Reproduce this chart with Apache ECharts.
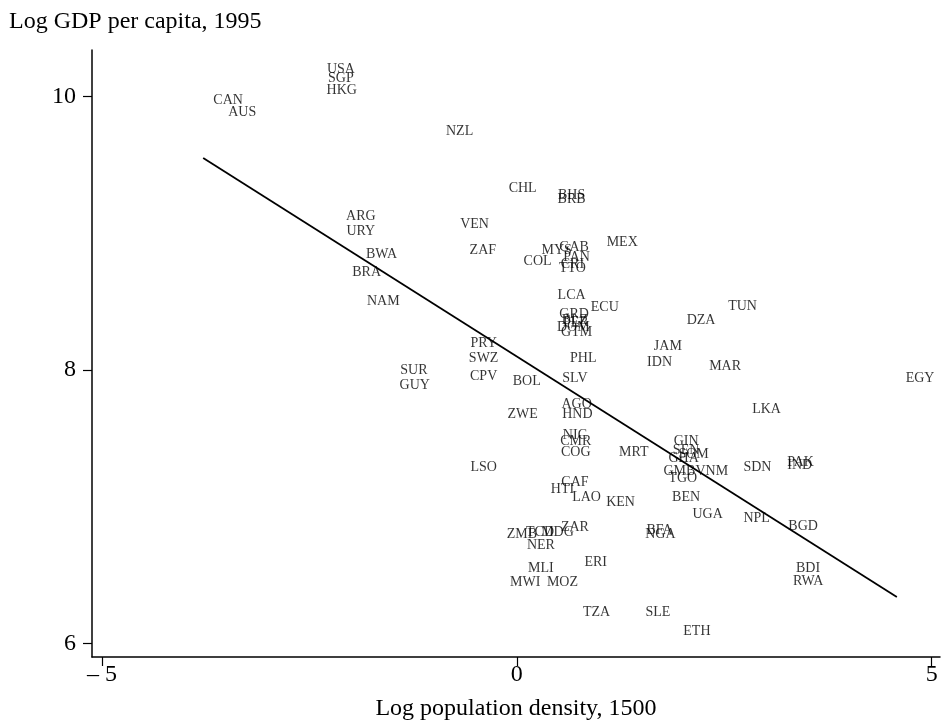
<!DOCTYPE html>
<html>
<head>
<meta charset="utf-8">
<script src="https://cdn.jsdelivr.net/npm/echarts@6/dist/echarts.min.js"></script>
<style>
  html, body { margin: 0; padding: 0; background: #fff; }
  #chart { width: 944px; height: 723px; }
</style>
</head>
<body>
<div id="chart"></div>
<script>
// Country codes, log population density in 1500, log GDP per capita in 1995
const codes = [
  'USA','SGP','HKG','CAN','AUS','NZL','CHL','BHS','BRB','ARG','URY','VEN','ZAF','MEX',
  'MYS','GAB','PAN','CRI','TTO','COL','BWA','BRA','NAM','LCA','ECU','GRD','BLZ','PER',
  'DOM','GTM','TUN','DZA','PRY','SWZ','CPV','SUR','GUY','JAM','IDN','MAR','PHL','SLV',
  'BOL','EGY','AGO','HND','ZWE','LKA','NIC','CMR','COG','MRT','GIN','SEN','SOM','GHA',
  'GMB','VNM','TGO','SDN','PAK','IND','LSO','CAF','HTI','LAO','KEN','BEN','UGA','NPL',
  'BGD','ZMB','TCD','MDG','ZAR','NER','BFA','NGA','ERI','MLI','MWI','MOZ','BDI','RWA',
  'TZA','SLE','ETH'
];
const logDensity = [
  -2.12,-2.12,-2.11,-3.48,-3.31,-0.69,0.07,0.66,0.66,-1.88,-1.88,-0.51,-0.41,1.27,
  0.48,0.69,0.72,0.67,0.67,0.25,-1.63,-1.81,-1.61,0.66,1.06,0.69,0.70,0.71,
  0.68,0.72,2.72,2.22,-0.40,-0.40,-0.40,-1.24,-1.23,1.82,1.72,2.51,0.80,0.70,
  0.12,4.86,0.72,0.73,0.07,3.01,0.70,0.71,0.71,1.41,2.04,2.04,2.13,2.01,
  1.96,2.35,2.00,2.90,3.42,3.41,-0.40,0.70,0.55,0.84,1.25,2.04,2.30,2.89,
  3.45,0.06,0.28,0.49,0.70,0.29,1.72,1.73,0.95,0.29,0.10,0.55,3.51,3.51,
  0.96,1.70,2.17
];
const logGdp = [
  10.195,10.135,10.045,9.975,9.885,9.745,9.325,9.275,9.245,9.125,9.015,9.065,8.875,8.935,
  8.875,8.895,8.825,8.775,8.745,8.795,8.845,8.715,8.505,8.545,8.455,8.405,8.365,8.345,
  8.315,8.275,8.465,8.365,8.195,8.085,7.955,7.995,7.885,8.175,8.055,8.025,8.085,7.935,
  7.915,7.935,7.745,7.675,7.675,7.715,7.525,7.475,7.395,7.395,7.475,7.415,7.385,7.355,
  7.255,7.255,7.205,7.285,7.325,7.305,7.285,7.175,7.125,7.065,7.035,7.065,6.945,6.915,
  6.855,6.795,6.815,6.815,6.845,6.715,6.825,6.795,6.595,6.545,6.445,6.445,6.545,6.455,
  6.225,6.225,6.085
];
// Fitted line: intercept and slope, drawn over this density range
const fitCoef = [8.098, -0.384];
const fitRange = [-3.78, 4.58];
const xTicks = [-5, 0, 5];
const yTicks = [6, 8, 10];

const serif = '"Liberation Serif", "DejaVu Serif", serif';
const points = codes.map((c, i) => ({ name: c, value: [logDensity[i], logGdp[i]] }));
const fitLine = fitRange.map(x => [x, fitCoef[0] + fitCoef[1] * x]);

const chart = echarts.init(document.getElementById('chart'), null, { renderer: 'canvas' });
chart.setOption({
  animation: false,
  backgroundColor: '#fff',
  grid: { left: 92, right: 4, top: 50, bottom: 66, containLabel: false, outerBoundsMode: 'none' },
  title: {
    text: 'Log GDP per capita, 1995',
    left: 4, top: 5,
    textStyle: { fontFamily: serif, fontSize: 24, fontWeight: 'normal', color: '#000' }
  },
  xAxis: {
    type: 'value', min: -5.12, max: 5.1,
    name: 'Log population density, 1500',
    nameLocation: 'middle', nameGap: 40,
    nameTextStyle: { fontFamily: serif, fontSize: 24, color: '#000' },
    axisLine: { show: true, onZero: false, lineStyle: { color: '#000', width: 1.5 } },
    axisTick: { show: true, length: 9, customValues: xTicks, lineStyle: { color: '#000', width: 1.2 } },
    axisLabel: {
      customValues: xTicks, margin: 6, fontFamily: serif, fontSize: 24, color: '#000',
      formatter: v => (v < 0 ? '\u2013 ' + Math.abs(v) : String(v))
    },
    splitLine: { show: false }
  },
  yAxis: {
    type: 'value', min: 5.9, max: 10.34,
    axisLine: { show: true, onZero: false, lineStyle: { color: '#000', width: 1.5 } },
    axisTick: { show: true, length: 9, customValues: yTicks, lineStyle: { color: '#000', width: 1.2 } },
    axisLabel: { customValues: yTicks, margin: 16, fontFamily: serif, fontSize: 24, color: '#000' },
    splitLine: { show: false }
  },
  series: [
    {
      type: 'scatter',
      data: points,
      symbolSize: 1,
      itemStyle: { color: 'rgba(0,0,0,0)' },
      label: {
        show: true, position: 'inside', formatter: p => p.name,
        fontFamily: serif, fontSize: 14, color: '#000',
        textBorderWidth: 0, textBorderColor: 'transparent'
      },
      emphasis: { disabled: true },
      z: 3
    },
    {
      type: 'line',
      data: fitLine,
      showSymbol: false,
      symbol: 'none',
      lineStyle: { color: '#000', width: 1.8 },
      z: 2
    }
  ]
});
</script>
</body>
</html>
